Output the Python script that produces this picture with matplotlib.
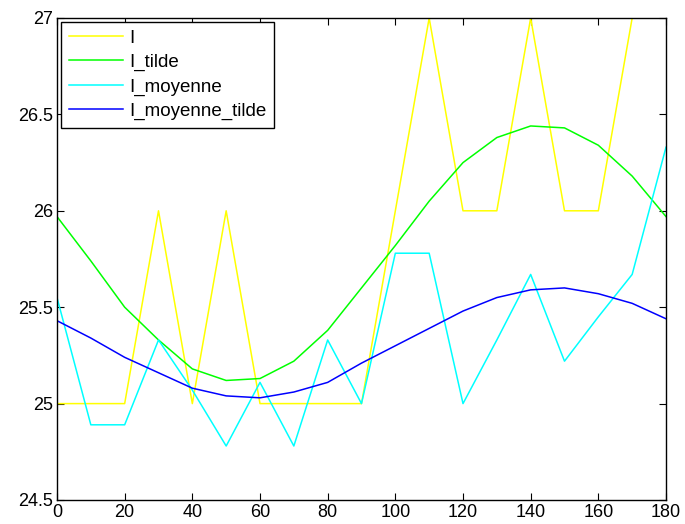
import matplotlib
matplotlib.use("Agg")
import matplotlib.pyplot as plt

x = [0, 10, 20, 30, 40, 50, 60, 70, 80, 90, 100, 110, 120, 130, 140, 150, 160, 170, 180]
I = [25, 25, 25, 26, 25, 26, 25, 25, 25, 25, 26, 27, 26, 26, 27, 26, 26, 27, 27]
I_tilde = [25.97, 25.74, 25.50, 25.33, 25.18, 25.12, 25.13, 25.22, 25.38, 25.60,
           25.82, 26.05, 26.25, 26.38, 26.44, 26.43, 26.34, 26.18, 25.97]
I_moyenne = [25.55, 24.89, 24.89, 25.33, 25.07, 24.78, 25.11, 24.78, 25.33, 25.0,
             25.78, 25.78, 25.0, 25.33, 25.67, 25.22, 25.45, 25.67, 26.33]
I_moyenne_tilde = [25.43, 25.34, 25.24, 25.16, 25.08, 25.04, 25.03, 25.06, 25.11, 25.21,
                   25.30, 25.39, 25.48, 25.55, 25.59, 25.60, 25.57, 25.52, 25.44]
labels = ["I", "I_tilde", "I_moyenne", "I_moyenne_tilde"]

plt.rcParams['font.family'] = ['Liberation Sans', 'DejaVu Sans']
fig = plt.figure(figsize=(6.85, 5.24), dpi=100)
ax = fig.add_axes([57/685, 24/524, (666-57)/685, (500-18)/524])

ax.plot(x, I, color=(1, 1, 0), lw=1.1, label=labels[0])
ax.plot(x, I_tilde, color=(0, 1, 0), lw=1.1, label=labels[1])
ax.plot(x, I_moyenne, color=(0, 1, 1), lw=1.1, label=labels[2])
ax.plot(x, I_moyenne_tilde, color=(0, 0, 1), lw=1.1, label=labels[3])

ax.set_xlim(0, 180)
ax.set_ylim(24.5, 27)
ax.set_xticks(range(0, 181, 20))
ax.set_yticks([24.5, 25, 25.5, 26, 26.5, 27])
ax.set_yticklabels(["24.5", "25", "25.5", "26", "26.5", "27"])
ax.tick_params(direction='in', top=True, right=True, length=5, labelsize=13, width=0.8, pad=3)
for s in ax.spines.values():
    s.set_linewidth(1)

leg = ax.legend(loc='upper left', fontsize=13.5, fancybox=False, framealpha=1,
                edgecolor='black', borderaxespad=0.22, handlelength=2.9,
                handletextpad=0.35, labelspacing=0.38, borderpad=0.4)
leg.get_frame().set_linewidth(1)

fig.savefig("out.png", dpi=100)
